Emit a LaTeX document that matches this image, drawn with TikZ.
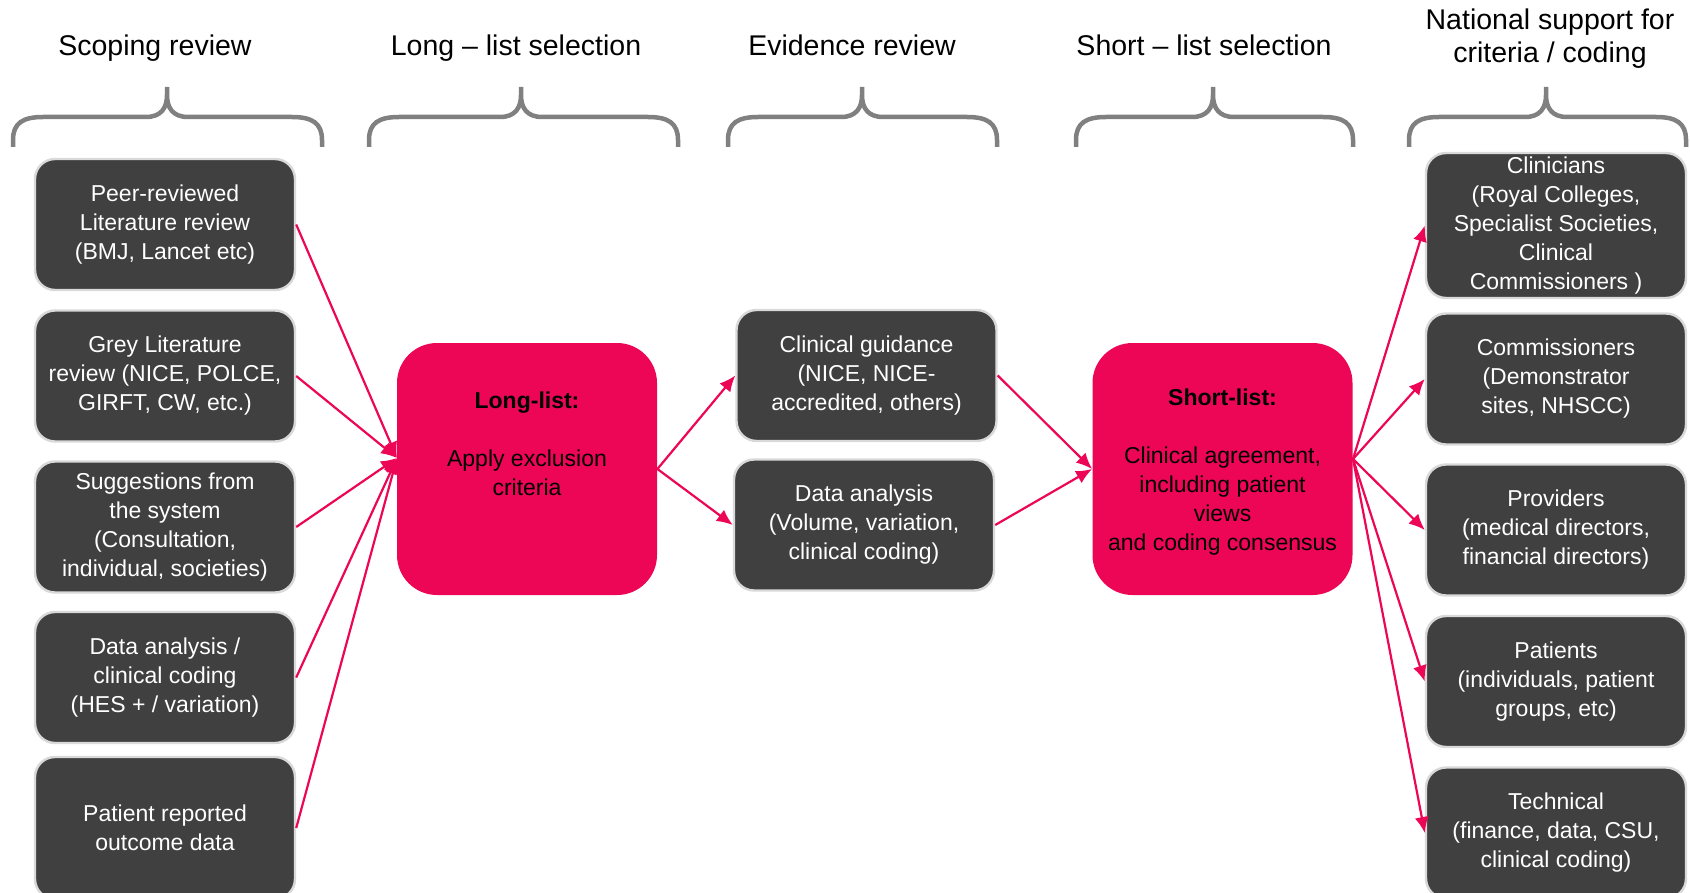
\documentclass[tikz,border=0pt]{standalone}
\usepackage{fontspec}
\setmainfont{Liberation Sans}
\usetikzlibrary{arrows.meta}
\definecolor{boxgrey}{RGB}{64,64,64}
\definecolor{rimgrey}{RGB}{217,217,217}
\definecolor{hotpink}{RGB}{236,6,85}
\definecolor{bracegrey}{RGB}{128,128,128}

\begin{document}
\begin{tikzpicture}[x=0.5pt, y=-0.5pt,
		greybox/.style={draw=rimgrey, line width=1.2pt, fill=boxgrey, rounded corners=10pt, text=white, align=center, minimum width=130pt, minimum height=65.5pt, inner sep=0pt, font=\fontsize{11.5}{14.5}\selectfont},
		pinkbox/.style={fill=hotpink, rounded corners=20pt, minimum width=130pt, minimum height=126pt},
		boxtext/.style={align=center, font=\fontsize{11.5}{14.5}\selectfont},
		heading/.style={align=center, font=\fontsize{14.25}{16.5}\selectfont},
		link/.style={-{Latex[length=8pt, width=7pt]}, hotpink, line width=1.1pt}]
			\useasboundingbox (0,0) rectangle (1690,893);
			% headings and braces
			\node[heading, anchor=base] (hscope) at (155,55.5) {Scoping review};
			\node[heading, anchor=base] (hlong) at (516,55.5) {Long -- list selection};
			\node[heading, anchor=base] (hevid) at (852,55.5) {Evidence review};
			\node[heading, anchor=base] (hshort) at (1204,55.5) {Short -- list selection};
			\node[heading] (hnat) at (1550,38.5) {National support for\\criteria / coding};
			\foreach \l/\t/\r in {13/167/322, 369/521/678, 728/862/997, 1076/1213/1353, 1409/1546/1686}
				\draw[bracegrey, line width=2.25pt] (\l,147) -- (\l,140) .. controls (\l,123) and (\l+10,117) .. (\l+30,117) -- (\t-21,117) .. controls (\t-6,117) and (\t,108) .. (\t,95) -- (\t,87) -- (\t,95) .. controls (\t,108) and (\t+6,117) .. (\t+21,117) -- (\r-30,117) .. controls (\r-10,117) and (\r,123) .. (\r,140) -- (\r,147);
			% scoping review
			\node[greybox] (peer) at (165,224.5) {Peer-reviewed\\Literature review\\(BMJ, Lancet etc)};
			\node[greybox] (grey) at (165,376) {Grey Literature\\review (NICE, POLCE,\\GIRFT, CW, etc.)};
			\node[greybox] (suggest) at (165,527) {Suggestions from\\the system\\(Consultation,\\individual, societies)};
			\node[greybox] (dataan) at (165,677.5) {Data analysis /\\clinical coding\\(HES + / variation)};
			\node[greybox, minimum height=71pt] (prom) at (165,828) {Patient reported\\outcome data};
			% long-list
			\node[pinkbox] (longlist) at (527,469) {};
			\node[boxtext] (lltext) at (527,443.5) {\textbf{Long-list:}\\[14.5pt]Apply exclusion\\criteria};
			\coordinate (llin) at (397,458);
			% evidence review
			\node[greybox] (guide) at (866.5,375.5) {Clinical guidance\\(NICE, NICE-\\accredited, others)};
			\node[greybox] (datarev) at (864,525) {Data analysis\\(Volume, variation,\\clinical coding)};
			% short-list
			\node[pinkbox] (shortlist) at (1222.5,469) {};
			\node[boxtext] (sltext) at (1222.5,472.5) {\textbf{Short-list:}\\[14.5pt]Clinical agreement,\\including patient\\views\\and coding consensus};
			\coordinate (slout) at (1353,459);
			% national support
			\node[greybox, minimum height=72.5pt] (clin) at (1556,225.5) {Clinicians\\(Royal Colleges,\\Specialist Societies,\\Clinical\\Commissioners )};
			\node[greybox] (comm) at (1556,379) {Commissioners\\(Demonstrator\\sites, NHSCC)};
			\node[greybox] (prov) at (1556,530) {Providers\\(medical directors,\\financial directors)};
			\node[greybox] (pat) at (1556,681.5) {Patients\\(individuals, patient\\groups, etc)};
			\node[greybox] (tech) at (1556,833) {Technical\\(finance, data, CSU,\\clinical coding)};
			% arrows
			\draw[link] (peer.east) -- (llin);
			\draw[link] (grey.east) -- (llin);
			\draw[link] (suggest.east) -- (llin);
			\draw[link] (dataan.east) -- (llin);
			\draw[link] (prom.east) -- (llin);
			\draw[link] (longlist.east) -- (guide.west);
			\draw[link] (longlist.east) -- (datarev.west);
			\draw[link] (guide.east) -- (shortlist.west);
			\draw[link] (datarev.east) -- (shortlist.west);
			\draw[link] (slout) -- (clin.west);
			\draw[link] (slout) -- (comm.west);
			\draw[link] (slout) -- (prov.west);
			\draw[link] (slout) -- (pat.west);
			\draw[link] (slout) -- (tech.west);
		\end{tikzpicture}
\end{document}
